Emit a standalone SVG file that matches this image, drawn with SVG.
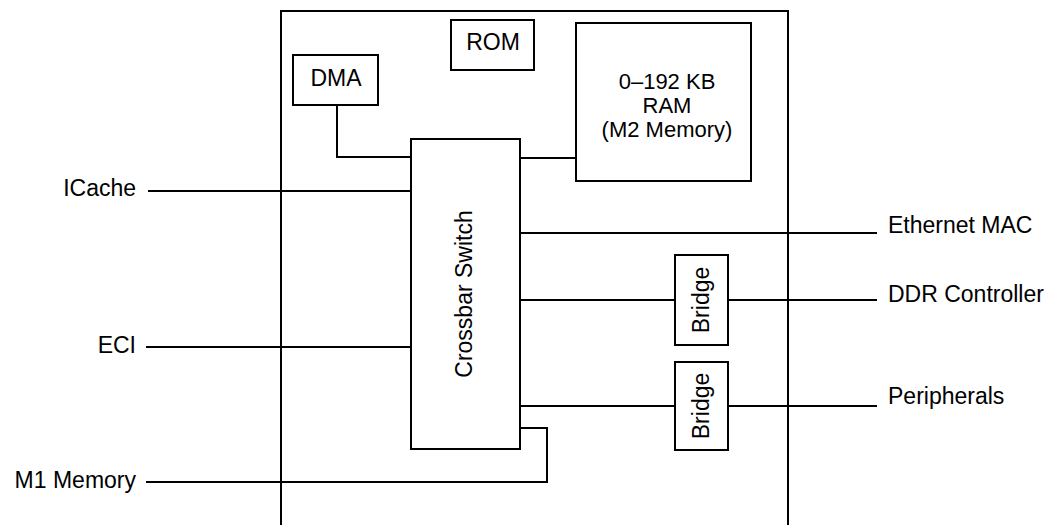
<svg xmlns="http://www.w3.org/2000/svg" width="1052" height="525" viewBox="0 0 1052 525">
<style>
.box{fill:#fff;stroke:#000;stroke-width:2}
.ln{fill:none;stroke:#000;stroke-width:2}
text{font-family:"Liberation Sans",Arial,sans-serif;font-size:23px;fill:#000}
.ram{font-size:22px}
.c{text-anchor:middle}
.e{text-anchor:end}
</style>
<rect width="1052" height="525" fill="#fff"/>
<g id="chip"><path class="ln" d="M281,525 V11 H788 V525"/></g>
<g id="connectors">
<path class="ln" d="M337,105 V157 H411"/>
<path class="ln" d="M148,191 H411"/>
<path class="ln" d="M146,347 H411"/>
<path class="ln" d="M146,482 H547 V428 H520"/>
<path class="ln" d="M520,158 H576"/>
<path class="ln" d="M520,233 H877"/>
<path class="ln" d="M520,300 H675 M728,300 H877"/>
<path class="ln" d="M520,406 H675 M728,406 H877"/>
</g>
<g id="dma"><rect class="box" x="293" y="55" width="85" height="50"/><text class="c" x="336" y="86">DMA</text></g>
<g id="rom"><rect class="box" x="451" y="20" width="83" height="50"/><text class="c" x="493" y="50">ROM</text></g>
<g id="ram"><rect class="box" x="576" y="23" width="175" height="158"/>
<text class="c ram" x="667" y="89">0–192 KB</text>
<text class="c ram" x="667" y="113">RAM</text>
<text class="c ram" x="667" y="137">(M2 Memory)</text></g>
<g id="crossbar"><rect class="box" x="411" y="139" width="109" height="310"/><text class="c" transform="translate(472,294) rotate(-90)">Crossbar Switch</text></g>
<g id="bridge1"><rect class="box" x="675" y="255" width="53" height="90"/><text class="c" transform="translate(709,300) rotate(-90)">Bridge</text></g>
<g id="bridge2"><rect class="box" x="675" y="362" width="53" height="88"/><text class="c" transform="translate(709,406) rotate(-90)">Bridge</text></g>
<g id="icache"><text class="e" x="136" y="196">ICache</text></g>
<g id="eci"><text class="e" x="136" y="353">ECI</text></g>
<g id="m1"><text class="e" x="136" y="488">M1 Memory</text></g>
<g id="eth"><text x="888" y="233">Ethernet MAC</text></g>
<g id="ddr"><text x="888" y="302">DDR Controller</text></g>
<g id="periph"><text x="888" y="404">Peripherals</text></g>
</svg>
